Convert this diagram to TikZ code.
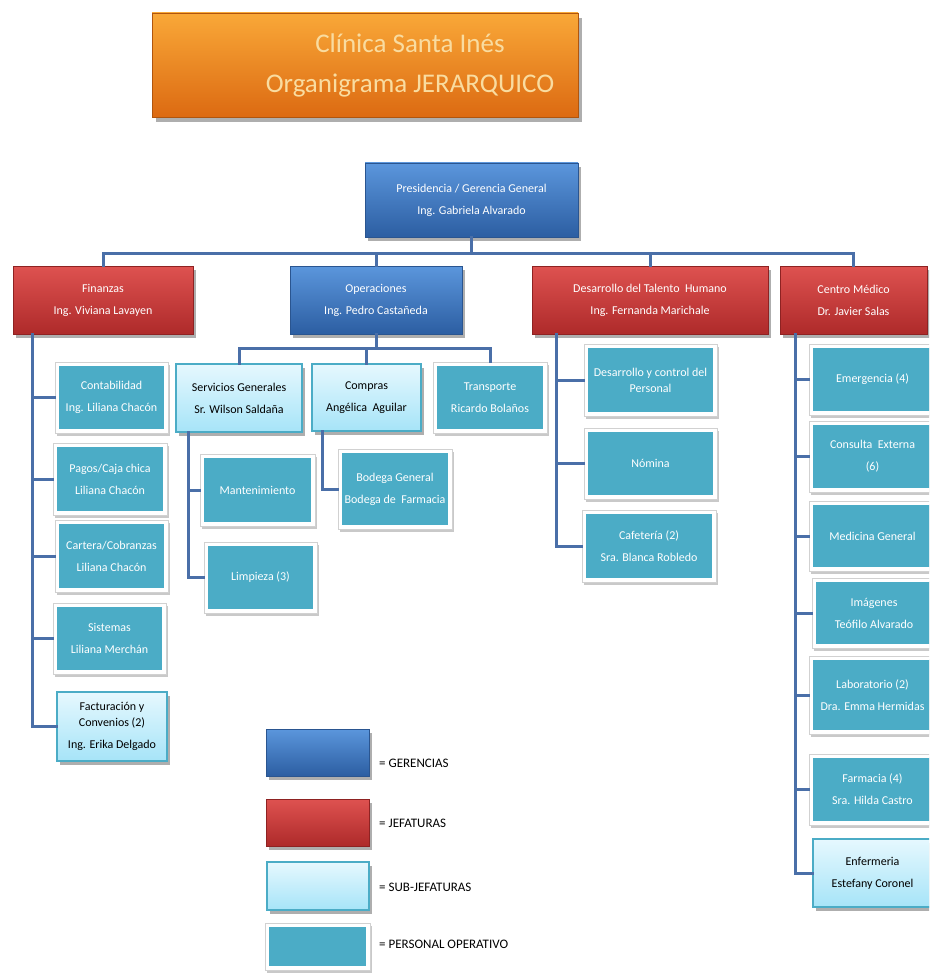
\documentclass[tikz,border=0pt]{standalone}
\usepackage{fontspec}
\setmainfont{Carlito}
\usetikzlibrary{shadows}
\definecolor{conncol}{HTML}{4A6FA8}
\definecolor{opfill}{HTML}{4BACC6}
\definecolor{gtop}{HTML}{5B96DC}
\definecolor{gbot}{HTML}{2C5EA2}
\definecolor{gline}{HTML}{2A5590}
\definecolor{jtop}{HTML}{DE5250}
\definecolor{jbot}{HTML}{AE2A2A}
\definecolor{jline}{HTML}{8E2222}
\definecolor{stop}{HTML}{E6F8FE}
\definecolor{sbot}{HTML}{A6E4F8}
\definecolor{sline}{HTML}{4BACC6}
\definecolor{otop}{HTML}{F9A838}
\definecolor{obot}{HTML}{DC6A12}
\definecolor{ttext}{HTML}{F9DCA0}
\tikzset{
  base/.style={rectangle, inner sep=1pt, align=center, font=\fontsize{12}{16}\selectfont},
  shad/.style={drop shadow={shadow xshift=3pt, shadow yshift=-4pt, opacity=0.45, fill=black!70}},
  gerencia/.style={base, shad, top color=gtop, bottom color=gbot, draw=gline, line width=0.6pt, text=white},
  jefatura/.style={base, shad, top color=jtop, bottom color=jbot, draw=jline, line width=0.6pt, text=white},
  subjef/.style={base, shad, top color=stop, bottom color=sbot, draw=sline, line width=1.2pt, text=black},
  oper/.style={base, drop shadow={shadow xshift=2pt, shadow yshift=-3pt, opacity=0.35, fill=black!60},
    fill=white, draw=black!18, line width=0.6pt, text=white,
    path picture={\fill[opfill] ([shift={(4pt,4pt)}]path picture bounding box.south west) rectangle ([shift={(-4pt,-4pt)}]path picture bounding box.north east);}},
  titlebox/.style={rectangle, drop shadow={shadow xshift=4pt, shadow yshift=-5pt, opacity=0.45, fill=black!70}, top color=otop, bottom color=obot, draw=obot!80!black, line width=0.5pt},
  titletext/.style={text=ttext, align=center, inner sep=0pt, font=\fontsize{27}{40}\selectfont},
  legtext/.style={anchor=west, inner sep=0pt, text=black, font=\fontsize{13}{15}\selectfont},
  conn/.style={draw=conncol, line width=3pt, line cap=rect}
}
\newcommand\bx[7]{\node[#1, minimum width={(#5-#3)*1pt}, minimum height={(#6-#4)*1pt}] (#2) at ({(#3+#5)/2},{(#4+#6)/2}) {#7};}
\newcommand\ob[6]{\node[oper, minimum width={(#4-#2+8)*1pt}, minimum height={(#5-#3+8)*1pt}] (#1) at ({(#2+#4)/2},{(#3+#5)/2}) {#6};}
\begin{document}
\begin{tikzpicture}[x=1pt,y=-1pt]
\useasboundingbox[fill=white] (0,0) rectangle (929,976);
\clip (0,0) rectangle (929,976);

% title
\bx{titlebox}{title}{152}{13}{578}{117}{}
\node[titletext] (titletxt) at (410,65) {Clínica Santa Inés\\Organigrama JERARQUICO};

% heads
\bx{gerencia}{pres}{365}{163}{578}{237}{Presidencia / Gerencia General\\[6pt]Ing. Gabriela Alvarado}
\bx{jefatura}{fin}{13}{266}{193}{334}{Finanzas\\[6pt]Ing. Viviana Lavayen}
\bx{gerencia}{ope}{290}{266}{462}{334}{Operaciones\\[6pt]Ing. Pedro Castañeda}
\bx{jefatura}{dth}{532}{266}{768}{334}{Desarrollo del Talento~ Humano\\[6pt]Ing. Fernanda Marichale}
\bx{jefatura}{cm}{780}{266}{927}{334}{Centro Médico\\[6pt]Dr. Javier Salas}

% Finanzas column
\ob{conta}{59}{366}{164}{429}{Contabilidad\\[6pt]Ing. Liliana Chacón}
\ob{pagos}{57}{447}{163}{511}{Pagos/Caja chica\\[6pt]Liliana Chacón}
\ob{cartera}{59}{524}{164}{588}{Cartera/Cobranzas\\[6pt]Liliana Chacón}
\ob{sist}{57}{607}{162}{670}{Sistemas\\[6pt]Liliana Merchán}
\bx{subjef}{fact}{57}{692}{167}{761}{Facturación y\\Convenios (2)\\[6pt]Ing. Erika Delgado}

% Operaciones
\bx{subjef}{serv}{176}{364}{302}{432}{Servicios Generales\\[6pt]Sr. Wilson Saldaña}
\ob{mant}{204}{458}{311}{522}{Mantenimiento}
\ob{limp}{208}{546}{313}{609}{Limpieza (3)}
\bx{subjef}{compras}{312}{364}{421}{431}{Compras\\[6pt]Angélica~ Aguilar}
\ob{bodega}{342}{453}{448}{525}{Bodega General\\[6pt]Bodega de~ Farmacia}
\ob{transp}{437}{366}{543}{429}{Transporte\\[6pt]Ricardo Bolaños}

% Desarrollo del Talento Humano
\ob{dyc}{588}{348}{713}{412}{Desarrollo y control del\\Personal}
\ob{nom}{588}{432}{713}{495}{Nómina}
\ob{caf}{586}{514}{712}{578}{Cafetería (2)\\[6pt]Sra. Blanca Robledo}

% Centro Medico
\ob{emer}{813}{348}{932}{411}{Emergencia (4)}
\ob{cons}{813}{425}{932}{488}{Consulta~ Externa\\[6pt](6)}
\ob{med}{813}{505}{932}{567}{Medicina General}
\ob{img}{816}{582}{932}{644}{Imágenes\\[6pt]Teófilo Alvarado}
\ob{lab}{813}{660}{932}{730}{Laboratorio (2)\\[6pt]Dra. Emma Hermidas}
\ob{farm}{813}{758}{932}{821}{Farmacia (4)\\[6pt]Sra. Hilda Castro}
\bx{subjef}{enf}{813}{839}{932}{907}{Enfermeria\\[6pt]Estefany Coronel}

% connectors: top level
\coordinate (bus) at (471,253);
\draw[conn] (pres.south) -- (pres.south |- bus);
\draw[conn] (fin.north) |- (cm.north |- bus) -- (cm.north);
\draw[conn] (ope.north) -- (ope.north |- bus);
\draw[conn] (dth.north) -- (dth.north |- bus);

% Finanzas trunk
\coordinate (ft) at ([xshift=20pt]fin.south west);
\draw[conn] (ft) |- (fact.west);
\foreach \n in {conta,pagos,cartera,sist} \draw[conn] (ft |- \n.west) -- (\n.west);

% Operaciones sub bus
\coordinate (obus) at (377,348);
\draw[conn] (ope.south) -- (ope.south |- obus);
\draw[conn] (serv.north) |- (transp.north |- obus) -- (transp.north);
\draw[conn] (compras.north) -- (compras.north |- obus);
\coordinate (st) at ([xshift=13pt]serv.south west);
\draw[conn] (st) |- (limp.west);
\draw[conn] (st |- mant.west) -- (mant.west);
\coordinate (ct) at ([xshift=11pt]compras.south west);
\draw[conn] (ct) |- (bodega.west);

% DTH trunk
\coordinate (dt) at ([xshift=25pt]dth.south west);
\draw[conn] (dt) |- (caf.west);
\foreach \n in {dyc,nom} \draw[conn] (dt |- \n.west) -- (\n.west);

% Centro Medico trunk
\coordinate (mt) at ([xshift=16pt]cm.south west);
\draw[conn] (mt) |- (enf.west);
\foreach \n in {emer,cons,med,img,lab,farm} \draw[conn] (mt |- \n.west) -- (\n.west);

% legend
\bx{gerencia}{lg1}{266}{729}{369}{776}{}
\bx{jefatura}{lg2}{266}{799}{369}{846}{}
\bx{subjef}{lg3}{267}{862}{369}{910}{}
\ob{lg4}{269}{927}{366}{966}{}
\node[legtext] (lt1) at (379,763) {= GERENCIAS};
\node[legtext] (lt2) at (379,823) {= JEFATURAS};
\node[legtext] (lt3) at (379,887) {= SUB-JEFATURAS};
\node[legtext] (lt4) at (379,944) {= PERSONAL OPERATIVO};
\end{tikzpicture}
\end{document}
